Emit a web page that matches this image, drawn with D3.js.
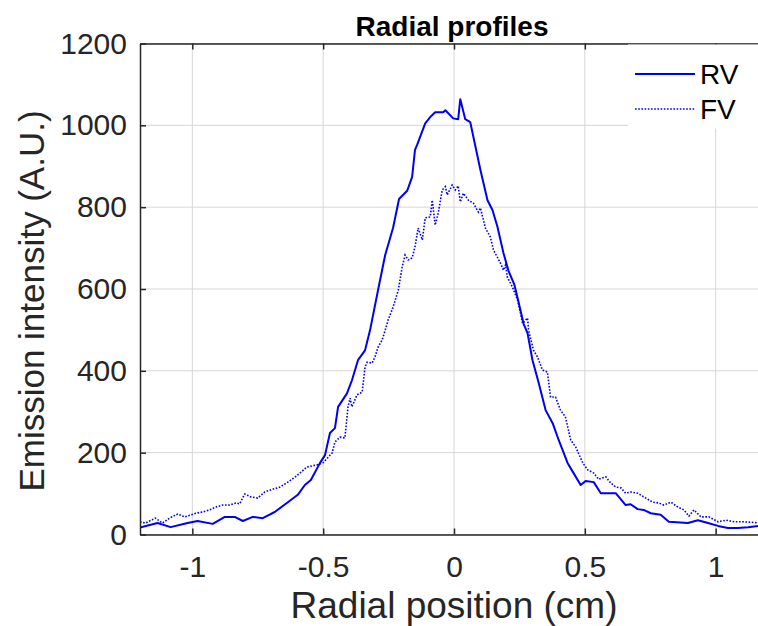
<!DOCTYPE html>
<html lang="en">
<head>
  <meta charset="UTF-8">
  <title>Radial profiles</title>
  <script src="https://d3js.org/d3.v7.min.js"></script>
  <style>
    body { margin: 0; background: #fff; }
    svg { display: block; overflow: hidden; }
    text { font-family: "Liberation Sans", Arial, Helvetica, sans-serif; fill: #262626; }
    .tick text { font-size: 30px; fill: #262626; }
    .axis path, .axis line { stroke: #262626; stroke-width: 1.5; }
    .grid line { stroke: #d6d6d6; stroke-width: 1; }
  </style>
</head>
<body>
  <script>
    // radial position (cm) and emission intensity (A.U.)
    const rvX = [-1.20,-1.133,-1.083,-1.018,-0.980,-0.922,-0.876,-0.838,-0.807,-0.769,-0.731,-0.685,-0.635,-0.597,-0.570,-0.547,-0.512,-0.493,-0.474,-0.455,-0.443,-0.409,-0.390,-0.367,-0.340,-0.321,-0.290,-0.263,-0.233,-0.210,-0.179,-0.160,-0.149,-0.141,-0.110,-0.091,-0.072,-0.041,-0.033,-0.003,0.016,0.024,0.043,0.062,0.101,0.128,0.147,0.166,0.189,0.208,0.231,0.246,0.266,0.281,0.300,0.323,0.350,0.377,0.400,0.434,0.457,0.484,0.503,0.534,0.561,0.618,0.656,0.675,0.702,0.725,0.752,0.790,0.821,0.894,0.932,0.971,1.009,1.047,1.085,1.124,1.166,1.20];
    const rvY = [17,28,18,28,33,26,43,43,33,43,40,55,79,97,121,133,175,194,248,260,312,345,377,426,450,499,598,683,749,820,840,874,940,952,1005,1020,1032,1032,1037,1017,1015,1064,1015,1008,891,817,793,752,688,645,610,570,515,492,426,372,304,272,231,175,150,121,131,128,101,101,72,74,62,60,52,48,31,28,35,28,21,16,16,18,21,21];

    const fvX = [-1.20,-1.179,-1.141,-1.114,-1.087,-1.056,-1.029,-1.006,-0.987,-0.961,-0.934,-0.911,-0.884,-0.857,-0.834,-0.819,-0.800,-0.777,-0.750,-0.723,-0.700,-0.665,-0.635,-0.608,-0.589,-0.562,-0.524,-0.501,-0.466,-0.455,-0.436,-0.417,-0.405,-0.397,-0.390,-0.371,-0.351,-0.340,-0.332,-0.313,-0.302,-0.290,-0.275,-0.263,-0.252,-0.233,-0.213,-0.198,-0.187,-0.175,-0.160,-0.149,-0.137,-0.121,-0.110,-0.091,-0.083,-0.072,-0.060,-0.045,-0.033,-0.026,-0.007,0.005,0.016,0.024,0.036,0.055,0.074,0.093,0.101,0.120,0.139,0.151,0.177,0.189,0.197,0.204,0.223,0.243,0.254,0.262,0.281,0.285,0.304,0.319,0.338,0.357,0.369,0.388,0.407,0.426,0.446,0.465,0.492,0.511,0.534,0.553,0.580,0.599,0.618,0.638,0.656,0.675,0.702,0.733,0.760,0.783,0.802,0.829,0.856,0.879,0.898,0.917,0.944,0.974,1.009,1.040,1.070,1.105,1.135,1.166,1.20];
    const fvY = [31,28,40,28,40,50,43,48,52,55,60,67,72,72,77,75,99,92,89,104,109,116,128,140,150,165,170,175,199,226,238,236,312,333,312,341,348,409,421,419,434,458,475,499,524,555,597,654,683,671,676,703,749,720,774,776,817,756,786,842,850,830,854,842,852,813,834,817,810,788,798,749,727,695,664,646,659,629,605,573,541,516,529,499,450,434,402,397,336,336,304,287,231,214,175,158,150,135,141,126,116,114,101,104,101,89,79,77,72,79,67,60,45,60,43,43,31,35,31,31,30,28,27];

    const seriesNames = ["RV", "FV"];
    const xTicks = [-1, -0.5, 0, 0.5, 1];
    const yTicks = [0, 200, 400, 600, 800, 1000, 1200];

    const W = 758, H = 626;
    // axes box (right edge runs past the picture edge, as in the original)
    const pLeft = 140, pRight = 768, pTop = 43.5, pBottom = 534.5;
    const blue = "#0000f0";
    const plain = d => String(d);   // hyphen minus, no thousands comma

    const svg = d3.select("body").append("svg")
      .attr("width", W).attr("height", H);

    const x = d3.scaleLinear().domain([-1.2, 1.2]).range([pLeft, pRight]);
    const y = d3.scaleLinear().domain([0, 1200]).range([pBottom, pTop]);

    svg.append("clipPath").attr("id", "plot-clip")
      .append("rect")
      .attr("x", pLeft).attr("y", pTop)
      .attr("width", pRight - pLeft).attr("height", pBottom - pTop);

    // grid
    const grid = svg.append("g").attr("class", "grid");
    grid.selectAll(".gx").data(xTicks).enter().append("line")
      .attr("x1", d => x(d)).attr("x2", d => x(d))
      .attr("y1", pTop).attr("y2", pBottom);
    grid.selectAll(".gy").data(yTicks).enter().append("line")
      .attr("x1", pLeft).attr("x2", pRight)
      .attr("y1", d => y(d)).attr("y2", d => y(d));

    // lines
    const line = d3.line().x(d => x(d[0])).y(d => y(d[1]));
    const plot = svg.append("g").attr("clip-path", "url(#plot-clip)");

    plot.append("path")
      .datum(d3.zip(fvX, fvY))
      .attr("fill", "none")
      .attr("stroke", blue)
      .attr("stroke-width", 1.6)
      .attr("stroke-dasharray", "1.6,1.6")
      .attr("d", line);

    plot.append("path")
      .datum(d3.zip(rvX, rvY))
      .attr("fill", "none")
      .attr("stroke", blue)
      .attr("stroke-width", 2)
      .attr("stroke-linejoin", "round")
      .attr("d", line);

    // axes, ticks pointing inward
    svg.append("g").attr("class", "axis")
      .attr("transform", `translate(0,${pBottom})`)
      .call(d3.axisBottom(x).tickValues(xTicks).tickSizeInner(-6).tickSizeOuter(0)
        .tickPadding(21).tickFormat(plain));

    svg.append("g").attr("class", "axis")
      .attr("transform", `translate(0,${pTop})`)
      .call(d3.axisTop(x).tickValues(xTicks).tickSizeInner(-6).tickSizeOuter(0).tickFormat(""));

    svg.append("g").attr("class", "axis")
      .attr("transform", `translate(${pLeft},0)`)
      .call(d3.axisLeft(y).tickValues(yTicks).tickSizeInner(-6).tickSizeOuter(0)
        .tickPadding(13).tickFormat(plain));

    svg.selectAll(".axis .tick text").style("font-family", "'Liberation Sans', Arial, sans-serif");

    // title
    svg.append("text")
      .attr("x", 452).attr("y", 36)
      .attr("text-anchor", "middle")
      .style("font-size", "28px").style("font-weight", "bold")
      .style("fill", "#000")
      .text("Radial profiles");

    // axis titles
    svg.append("text")
      .attr("x", (pLeft + pRight) / 2).attr("y", 618)
      .attr("text-anchor", "middle")
      .style("font-size", "37px")
      .text("Radial position (cm)");

    svg.append("text")
      .attr("transform", `translate(44,${(pTop + pBottom) / 2 + 12}) rotate(-90)`)
      .attr("text-anchor", "middle")
      .style("font-size", "35px")
      .text("Emission intensity (A.U.)");

    // legend
    const legend = svg.append("g");
    legend.append("rect")
      .attr("x", 628).attr("y", pTop + 1)
      .attr("width", 140).attr("height", 84)
      .attr("fill", "#fff");

    const legendRows = legend.selectAll(".row").data(seriesNames).enter().append("g")
      .attr("transform", (d, i) => `translate(0,${74 + i * 35})`);
    legendRows.append("line")
      .attr("x1", 635).attr("x2", 695)
      .attr("stroke", blue)
      .attr("stroke-width", (d, i) => i === 0 ? 2 : 1.6)
      .attr("stroke-dasharray", (d, i) => i === 0 ? null : "1.6,1.6");
    legendRows.append("text")
      .attr("x", 700).attr("y", 10)
      .style("font-size", "28px")
      .style("fill", "#000")
      .text(d => d);
  </script>
</body>
</html>
